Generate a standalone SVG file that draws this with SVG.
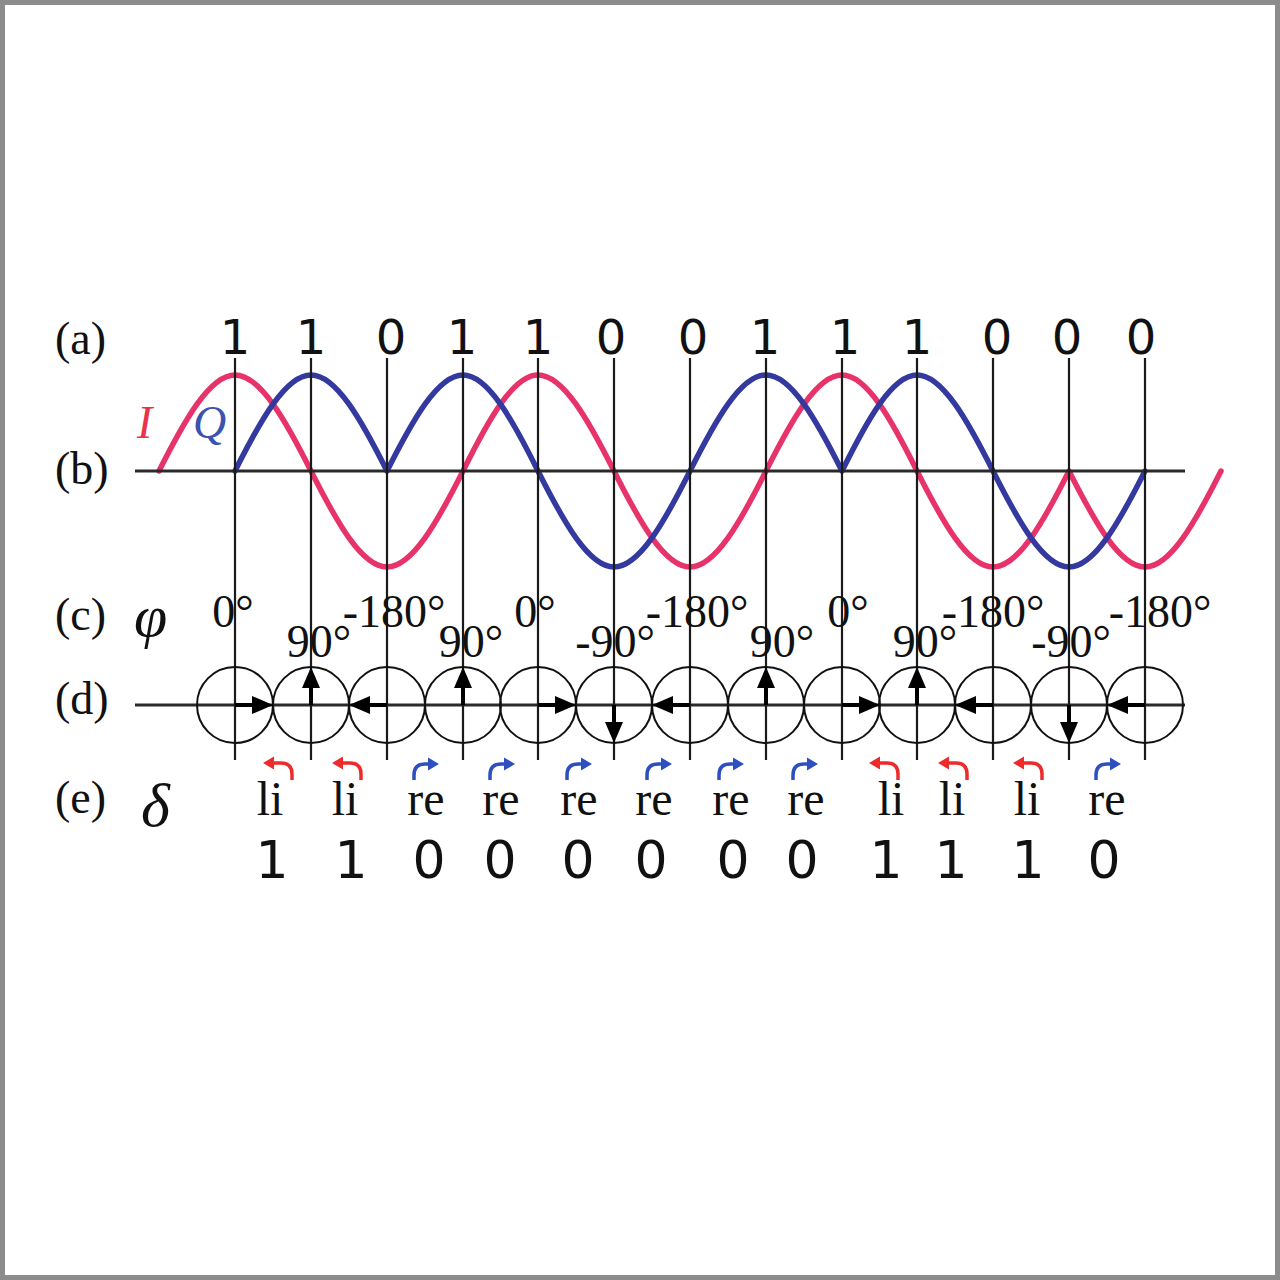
<svg xmlns="http://www.w3.org/2000/svg" xmlns:xlink="http://www.w3.org/1999/xlink" width="1280" height="1280" viewBox="0 0 1280 1280">
<style>
.lbl{font-family:"Liberation Serif","Times New Roman",serif;font-size:46px;fill:#111}
.ang{font-family:"Liberation Serif","Times New Roman",serif;font-size:46px;fill:#111;text-anchor:middle}
.dig{font-family:"DejaVu Sans","Noto Sans",sans-serif;font-size:48px;fill:#111;text-anchor:middle}
.dig2{font-family:"DejaVu Sans","Noto Sans",sans-serif;font-size:52px;fill:#111;text-anchor:middle}
.lr{font-family:"Liberation Serif","Times New Roman",serif;font-size:48px;fill:#111;text-anchor:middle}
.vl{stroke:#1a1a1a;stroke-width:2.2;fill:none}
.ax{stroke:#2a2a2a;stroke-width:3;fill:none}
.circ{stroke:#111;stroke-width:2;fill:none}
.wave{fill:none;stroke-width:5.5;stroke-linecap:round;stroke-linejoin:round}
</style>
<defs>
<g id="ph"><line x1="0" y1="0" x2="22" y2="0" stroke="#000" stroke-width="4"/><polygon points="38,0 17,-9 17,9" fill="#000"/></g>
<g id="arrLi"><path d="M9,0 L18,0 Q29,0 29,11 L29,17" fill="none" stroke="#ee2b2b" stroke-width="3.5"/><polygon points="0,0 11,-6.5 11,6.5" fill="#ee2b2b"/></g>
<g id="arrRe"><path d="M-9,0 L-14,0 Q-25,0 -25,11 L-25,16" fill="none" stroke="#2d4fbf" stroke-width="3.5"/><polygon points="0,0 -11,-6.5 -11,6.5" fill="#2d4fbf"/></g>
</defs>
<rect x="0" y="0" width="1280" height="1280" fill="#fff"/>
<rect x="2.5" y="2.5" width="1275" height="1275" fill="none" stroke="#8c8c8c" stroke-width="5"/>

<g id="row-labels">
<text class="lbl" x="55" y="354">(a)</text>
<text class="lbl" x="55" y="484">(b)</text>
<text class="lbl" x="55" y="630">(c)</text>
<text class="lbl" x="55" y="714">(d)</text>
<text class="lbl" x="55" y="813">(e)</text>
<text class="lbl" x="134" y="636" style="font-style:italic;font-size:60px">φ</text>
<text class="lbl" x="141" y="826" style="font-style:italic;font-size:62px">δ</text>
</g>

<g id="waves">
<path id="wave-I" class="wave" stroke="#e8336a" d="M159,471 C184.3,420.7 209.7,375 235,375 C260.3,375 285.7,420.7 311,471 C336.3,521.3 361.7,567 387,567 C412.3,567 437.7,521.3 463,471 C488,420.7 513,375 538,375 C563.3,375 588.7,420.7 614,471 C639.3,521.3 664.7,567 690,567 C715.3,567 740.7,521.3 766,471 C791.3,420.7 816.7,375 842,375 C867,375 892,420.7 917,471 C942.3,521.3 967.7,567 993,567 C1018.3,567 1043.7,521.3 1069,471 C1094.3,521.3 1119.7,567 1145,567 C1170.3,567 1195.7,521.3 1221,471"/>
<path id="wave-Q" class="wave" stroke="#33399e" d="M235,471 C260.3,420.7 285.7,375 311,375 C336.3,375 361.7,420.7 387,471 C412.3,420.7 437.7,375 463,375 C488,375 513,420.7 538,471 C563.3,521.3 588.7,567 614,567 C639.3,567 664.7,521.3 690,471 C715.3,420.7 740.7,375 766,375 C791.3,375 816.7,420.7 842,471 C867,420.7 892,375 917,375 C942.3,375 967.7,420.7 993,471 C1018.3,521.3 1043.7,567 1069,567 C1094.3,567 1119.7,521.3 1145,471"/>
<text x="137" y="438" font-family="Liberation Serif, serif" font-style="italic" font-size="46" fill="#e8334a">I</text>
<text x="193" y="438" font-family="Liberation Serif, serif" font-style="italic" font-size="46" fill="#3a52b0">Q</text>
</g>

<g id="connectors">
<line class="ax" x1="135" y1="471" x2="1185" y2="471"/>
<line class="ax" x1="135" y1="705" x2="1185" y2="705"/>
<line class="vl" x1="235" y1="358" x2="235" y2="760"/>
<line class="vl" x1="311" y1="358" x2="311" y2="760"/>
<line class="vl" x1="387" y1="358" x2="387" y2="760"/>
<line class="vl" x1="463" y1="358" x2="463" y2="760"/>
<line class="vl" x1="538" y1="358" x2="538" y2="760"/>
<line class="vl" x1="614" y1="358" x2="614" y2="760"/>
<line class="vl" x1="690" y1="358" x2="690" y2="760"/>
<line class="vl" x1="766" y1="358" x2="766" y2="760"/>
<line class="vl" x1="842" y1="358" x2="842" y2="760"/>
<line class="vl" x1="917" y1="358" x2="917" y2="760"/>
<line class="vl" x1="993" y1="358" x2="993" y2="760"/>
<line class="vl" x1="1069" y1="358" x2="1069" y2="760"/>
<line class="vl" x1="1145" y1="358" x2="1145" y2="760"/>
</g>

<g id="bits-a">
<text class="dig" x="235" y="354">1</text>
<text class="dig" x="311" y="354">1</text>
<text class="dig" x="391" y="354">0</text>
<text class="dig" x="462" y="354">1</text>
<text class="dig" x="538" y="354">1</text>
<text class="dig" x="611" y="354">0</text>
<text class="dig" x="693" y="354">0</text>
<text class="dig" x="765" y="354">1</text>
<text class="dig" x="845" y="354">1</text>
<text class="dig" x="917" y="354">1</text>
<text class="dig" x="997" y="354">0</text>
<text class="dig" x="1067" y="354">0</text>
<text class="dig" x="1141" y="354">0</text>
</g>

<g id="phases-c">
<text class="ang" x="233" y="627">0°</text>
<text class="ang" x="319" y="657">90°</text>
<text class="ang" x="394" y="627">-180°</text>
<text class="ang" x="471" y="657">90°</text>
<text class="ang" x="535" y="627">0°</text>
<text class="ang" x="615" y="657">-90°</text>
<text class="ang" x="697" y="627">-180°</text>
<text class="ang" x="782" y="657">90°</text>
<text class="ang" x="848" y="627">0°</text>
<text class="ang" x="925" y="657">90°</text>
<text class="ang" x="993" y="627">-180°</text>
<text class="ang" x="1071" y="657">-90°</text>
<text class="ang" x="1160" y="627">-180°</text>
</g>

<g id="phasors-d">
<circle class="circ" cx="235" cy="705" r="38"/>
<circle class="circ" cx="311" cy="705" r="38"/>
<circle class="circ" cx="387" cy="705" r="38"/>
<circle class="circ" cx="463" cy="705" r="38"/>
<circle class="circ" cx="538" cy="705" r="38"/>
<circle class="circ" cx="614" cy="705" r="38"/>
<circle class="circ" cx="690" cy="705" r="38"/>
<circle class="circ" cx="766" cy="705" r="38"/>
<circle class="circ" cx="842" cy="705" r="38"/>
<circle class="circ" cx="917" cy="705" r="38"/>
<circle class="circ" cx="993" cy="705" r="38"/>
<circle class="circ" cx="1069" cy="705" r="38"/>
<circle class="circ" cx="1145" cy="705" r="38"/>
<use href="#ph" transform="translate(235,705)"/>
<use href="#ph" transform="translate(311,705) rotate(-90)"/>
<use href="#ph" transform="translate(387,705) rotate(180)"/>
<use href="#ph" transform="translate(463,705) rotate(-90)"/>
<use href="#ph" transform="translate(538,705)"/>
<use href="#ph" transform="translate(614,705) rotate(90)"/>
<use href="#ph" transform="translate(690,705) rotate(180)"/>
<use href="#ph" transform="translate(766,705) rotate(-90)"/>
<use href="#ph" transform="translate(842,705)"/>
<use href="#ph" transform="translate(917,705) rotate(-90)"/>
<use href="#ph" transform="translate(993,705) rotate(180)"/>
<use href="#ph" transform="translate(1069,705) rotate(90)"/>
<use href="#ph" transform="translate(1145,705) rotate(180)"/>
</g>

<g id="turns-e">
<use href="#arrLi" transform="translate(263,763)"/>
<use href="#arrLi" transform="translate(332,763)"/>
<use href="#arrRe" transform="translate(439,764)"/>
<use href="#arrRe" transform="translate(515,764)"/>
<use href="#arrRe" transform="translate(592,764)"/>
<use href="#arrRe" transform="translate(672,764)"/>
<use href="#arrRe" transform="translate(744,764)"/>
<use href="#arrRe" transform="translate(818,764)"/>
<use href="#arrLi" transform="translate(869,763)"/>
<use href="#arrLi" transform="translate(938,763)"/>
<use href="#arrLi" transform="translate(1013,763)"/>
<use href="#arrRe" transform="translate(1121,764)"/>
<text class="lr" x="270" y="815">li</text>
<text class="lr" x="345" y="815">li</text>
<text class="lr" x="426" y="815">re</text>
<text class="lr" x="501" y="815">re</text>
<text class="lr" x="579" y="815">re</text>
<text class="lr" x="654" y="815">re</text>
<text class="lr" x="731" y="815">re</text>
<text class="lr" x="806" y="815">re</text>
<text class="lr" x="891" y="815">li</text>
<text class="lr" x="952" y="815">li</text>
<text class="lr" x="1027" y="815">li</text>
<text class="lr" x="1107" y="815">re</text>
<text class="dig2" x="272" y="878">1</text>
<text class="dig2" x="351" y="878">1</text>
<text class="dig2" x="429" y="878">0</text>
<text class="dig2" x="500" y="878">0</text>
<text class="dig2" x="578" y="878">0</text>
<text class="dig2" x="651" y="878">0</text>
<text class="dig2" x="733" y="878">0</text>
<text class="dig2" x="802" y="878">0</text>
<text class="dig2" x="886" y="878">1</text>
<text class="dig2" x="951" y="878">1</text>
<text class="dig2" x="1028" y="878">1</text>
<text class="dig2" x="1104" y="878">0</text>
</g>
</svg>
